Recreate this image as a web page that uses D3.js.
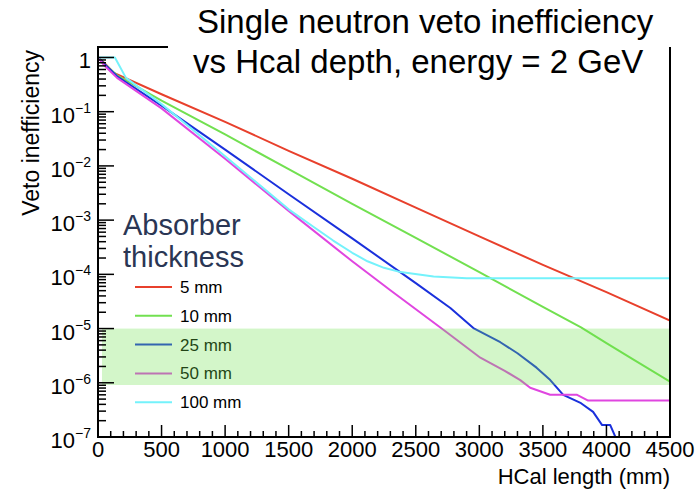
<!DOCTYPE html>
<html lang="en">
<head>
<meta charset="UTF-8">
<title>veto inefficiency</title>
<script src="https://cdn.jsdelivr.net/npm/d3@7"></script>
<style>
  body { margin: 0; background: #fff; }
  svg { display: block; font-family: "Liberation Sans", Arial, sans-serif; }
</style>
</head>
<body>
<svg id="chart" width="695" height="489"></svg>
<script>
// HCal length (mm) and veto inefficiency
const len5   = [0, 50, 125, 500, 1000, 1500, 2000, 2500, 3000, 3500, 4000, 4500];
const ineff5 = [1, 0.79, 0.52, 0.21, 0.065, 0.019, 5.8e-3, 1.7e-3, 5.0e-4, 1.5e-4, 4.7e-5, 1.4e-5];

const len10   = [0, 50, 150, 500, 1000, 1500, 2000, 2500, 3000, 3500, 3800, 4000, 4200, 4500];
const ineff10 = [1, 0.76, 0.47, 0.16, 0.038, 8.7e-3, 2.0e-3, 4.7e-4, 1.1e-4, 2.5e-5, 1.05e-5, 5.4e-6, 2.8e-6, 1.05e-6];

const len25   = [0, 50, 150, 500, 1000, 1500, 2000, 2500, 2772, 2953, 3165, 3300, 3450, 3558, 3660, 3800, 3895, 3966, 4030, 4080, 4110];
const ineff25 = [1, 0.76, 0.45, 0.129, 0.020, 3.0e-3, 4.6e-4, 6.9e-5, 2.4e-5, 1.02e-5, 5.6e-6, 3.5e-6, 1.9e-6, 1.12e-6, 6.0e-7, 4.2e-7, 2.9e-7, 1.66e-7, 1.66e-7, 8.9e-8, 5e-8];

const len50   = [0, 50, 150, 500, 1000, 1500, 2000, 2300, 2717, 3008, 3200, 3322, 3400, 3557, 3769, 3856, 4500];
const ineff50 = [1, 0.71, 0.42, 0.115, 0.0135, 1.48e-3, 1.74e-4, 5.1e-5, 9.5e-6, 2.9e-6, 1.66e-6, 1.12e-6, 8.1e-7, 6.0e-7, 6.0e-7, 4.7e-7, 4.7e-7];

const len100   = [0, 133, 220, 500, 1000, 1500, 1700, 1850, 2000, 2120, 2250, 2380, 2640, 2900, 4500];
const ineff100 = [1, 1, 0.42, 0.138, 0.0151, 1.58e-3, 7.4e-4, 4.2e-4, 2.5e-4, 1.74e-4, 1.32e-4, 1.10e-4, 9.1e-5, 8.5e-5, 8.5e-5];

const labels = ["5 mm", "10 mm", "25 mm", "50 mm", "100 mm"];
const colors = ["#e8402c", "#72e050", "#1a30dc", "#e046e0", "#74f2fb"];

const band = [9.1e-7, 1e-5];   // shaded target region
const xTicks = [0, 500, 1000, 1500, 2000, 2500, 3000, 3500, 4000, 4500];
const yExp = [0, -1, -2, -3, -4, -5, -6, -7];

const series = [
  {name: labels[0], x: len5, y: ineff5, color: colors[0]},
  {name: labels[1], x: len10, y: ineff10, color: colors[1]},
  {name: labels[2], x: len25, y: ineff25, color: colors[2]},
  {name: labels[3], x: len50, y: ineff50, color: colors[3]},
  {name: labels[4], x: len100, y: ineff100, color: colors[4]}
];

const svg = d3.select("#chart");
const pLeft = 98, pRight = 670, pTop = 47, pBottom = 437;

const x = d3.scaleLinear().domain([0, 4500]).range([pLeft, pRight]);
const y = d3.scaleLog().domain([1e-7, 1.56]).range([pBottom, pTop]);

svg.append("clipPath").attr("id", "plotclip")
  .append("rect").attr("x", pLeft).attr("y", pTop).attr("width", pRight - pLeft).attr("height", pBottom - pTop);

// curves
const line = d3.line().x(d => x(d[0])).y(d => y(d[1]));
const plot = svg.append("g").attr("clip-path", "url(#plotclip)");
series.forEach(s => {
  plot.append("path")
    .attr("d", line(s.x.map((v, i) => [v, s.y[i]])))
    .attr("fill", "none")
    .attr("stroke", s.color)
    .attr("stroke-width", 2)
    .attr("stroke-linejoin", "round");
});

// legend
const leg = svg.append("g");
leg.append("text").attr("x", 123).attr("y", 235).attr("font-size", 29).attr("fill", "#2a3654").text("Absorber");
leg.append("text").attr("x", 123).attr("y", 267).attr("font-size", 29).attr("fill", "#2a3654").text("thickness");
series.forEach((s, i) => {
  let ly = 287 + i * 28.8;
  leg.append("line").attr("x1", 135).attr("x2", 172).attr("y1", ly).attr("y2", ly)
    .attr("stroke", s.color).attr("stroke-width", 2);
  leg.append("text").attr("x", 180).attr("y", ly + 6).attr("font-size", 17).attr("fill", "#000").text(s.name);
});

// green band drawn on top, semi transparent
svg.append("rect")
  .attr("x", pLeft + 4).attr("width", pRight - pLeft - 4)
  .attr("y", y(band[1])).attr("height", y(band[0]) - y(band[1]))
  .attr("fill", "#6ee04c").attr("fill-opacity", 0.3);

// frame
const frame = svg.append("g").attr("stroke", "#000").attr("stroke-width", 2).attr("fill", "none");
frame.append("line").attr("x1", pLeft).attr("x2", pLeft).attr("y1", pTop - 1).attr("y2", pBottom + 1);
frame.append("line").attr("x1", pLeft - 1).attr("x2", pRight + 1).attr("y1", pBottom).attr("y2", pBottom);
frame.append("line").attr("x1", pRight).attr("x2", pRight).attr("y1", pTop).attr("y2", pBottom + 1);
frame.append("line").attr("x1", pLeft - 1).attr("x2", 168).attr("y1", pTop).attr("y2", pTop);

// x ticks
const minorX = d3.range(0, 4501, 100);
svg.append("g").selectAll("line").data(minorX).enter().append("line")
  .attr("x1", d => x(d)).attr("x2", d => x(d))
  .attr("y1", pBottom).attr("y2", d => pBottom - (d % 500 === 0 ? 12 : 6))
  .attr("stroke", "#000").attr("stroke-width", 1.5);
svg.append("g").selectAll("text").data(xTicks).enter().append("text")
  .attr("x", d => x(d)).attr("y", 457)
  .attr("text-anchor", "middle").attr("font-size", 22)
  .text(d => d);

// y ticks
const minorY = [];
yExp.forEach(e => {
  for (let m = 1; m < 10; m++) {
    let v = m * Math.pow(10, e);
    if (v >= 1e-7 && v <= 1.56) minorY.push({v: v, major: m === 1});
  }
});
svg.append("g").selectAll("line").data(minorY).enter().append("line")
  .attr("x1", pLeft).attr("x2", d => pLeft + (d.major ? 16 : 8))
  .attr("y1", d => y(d.v)).attr("y2", d => y(d.v))
  .attr("stroke", "#000").attr("stroke-width", 1.5);

const yl = svg.append("g").attr("font-size", 22).attr("text-anchor", "end");
yExp.forEach(e => {
  let t = yl.append("text").attr("x", 91).attr("y", y(Math.pow(10, e)) + 11);
  if (e === 0) {
    t.text("1");
  } else {
    t.append("tspan").text("10");
    t.append("tspan").attr("dy", -10).attr("font-size", 14).text("\u2212" + (-e));
  }
});

// axis titles
svg.append("text").attr("x", pRight).attr("y", 484).attr("text-anchor", "end")
  .attr("font-size", 22).text("HCal length (mm)");
svg.append("text").attr("transform", "translate(39,50) rotate(-90)")
  .attr("text-anchor", "end").attr("font-size", 23).text("Veto inefficiency");

// title
svg.append("text").attr("x", 197).attr("y", 33).attr("font-size", 33).text("Single neutron veto inefficiency");
svg.append("text").attr("x", 193).attr("y", 73).attr("font-size", 33).text("vs Hcal depth, energy = 2 GeV");
</script>
</body>
</html>
